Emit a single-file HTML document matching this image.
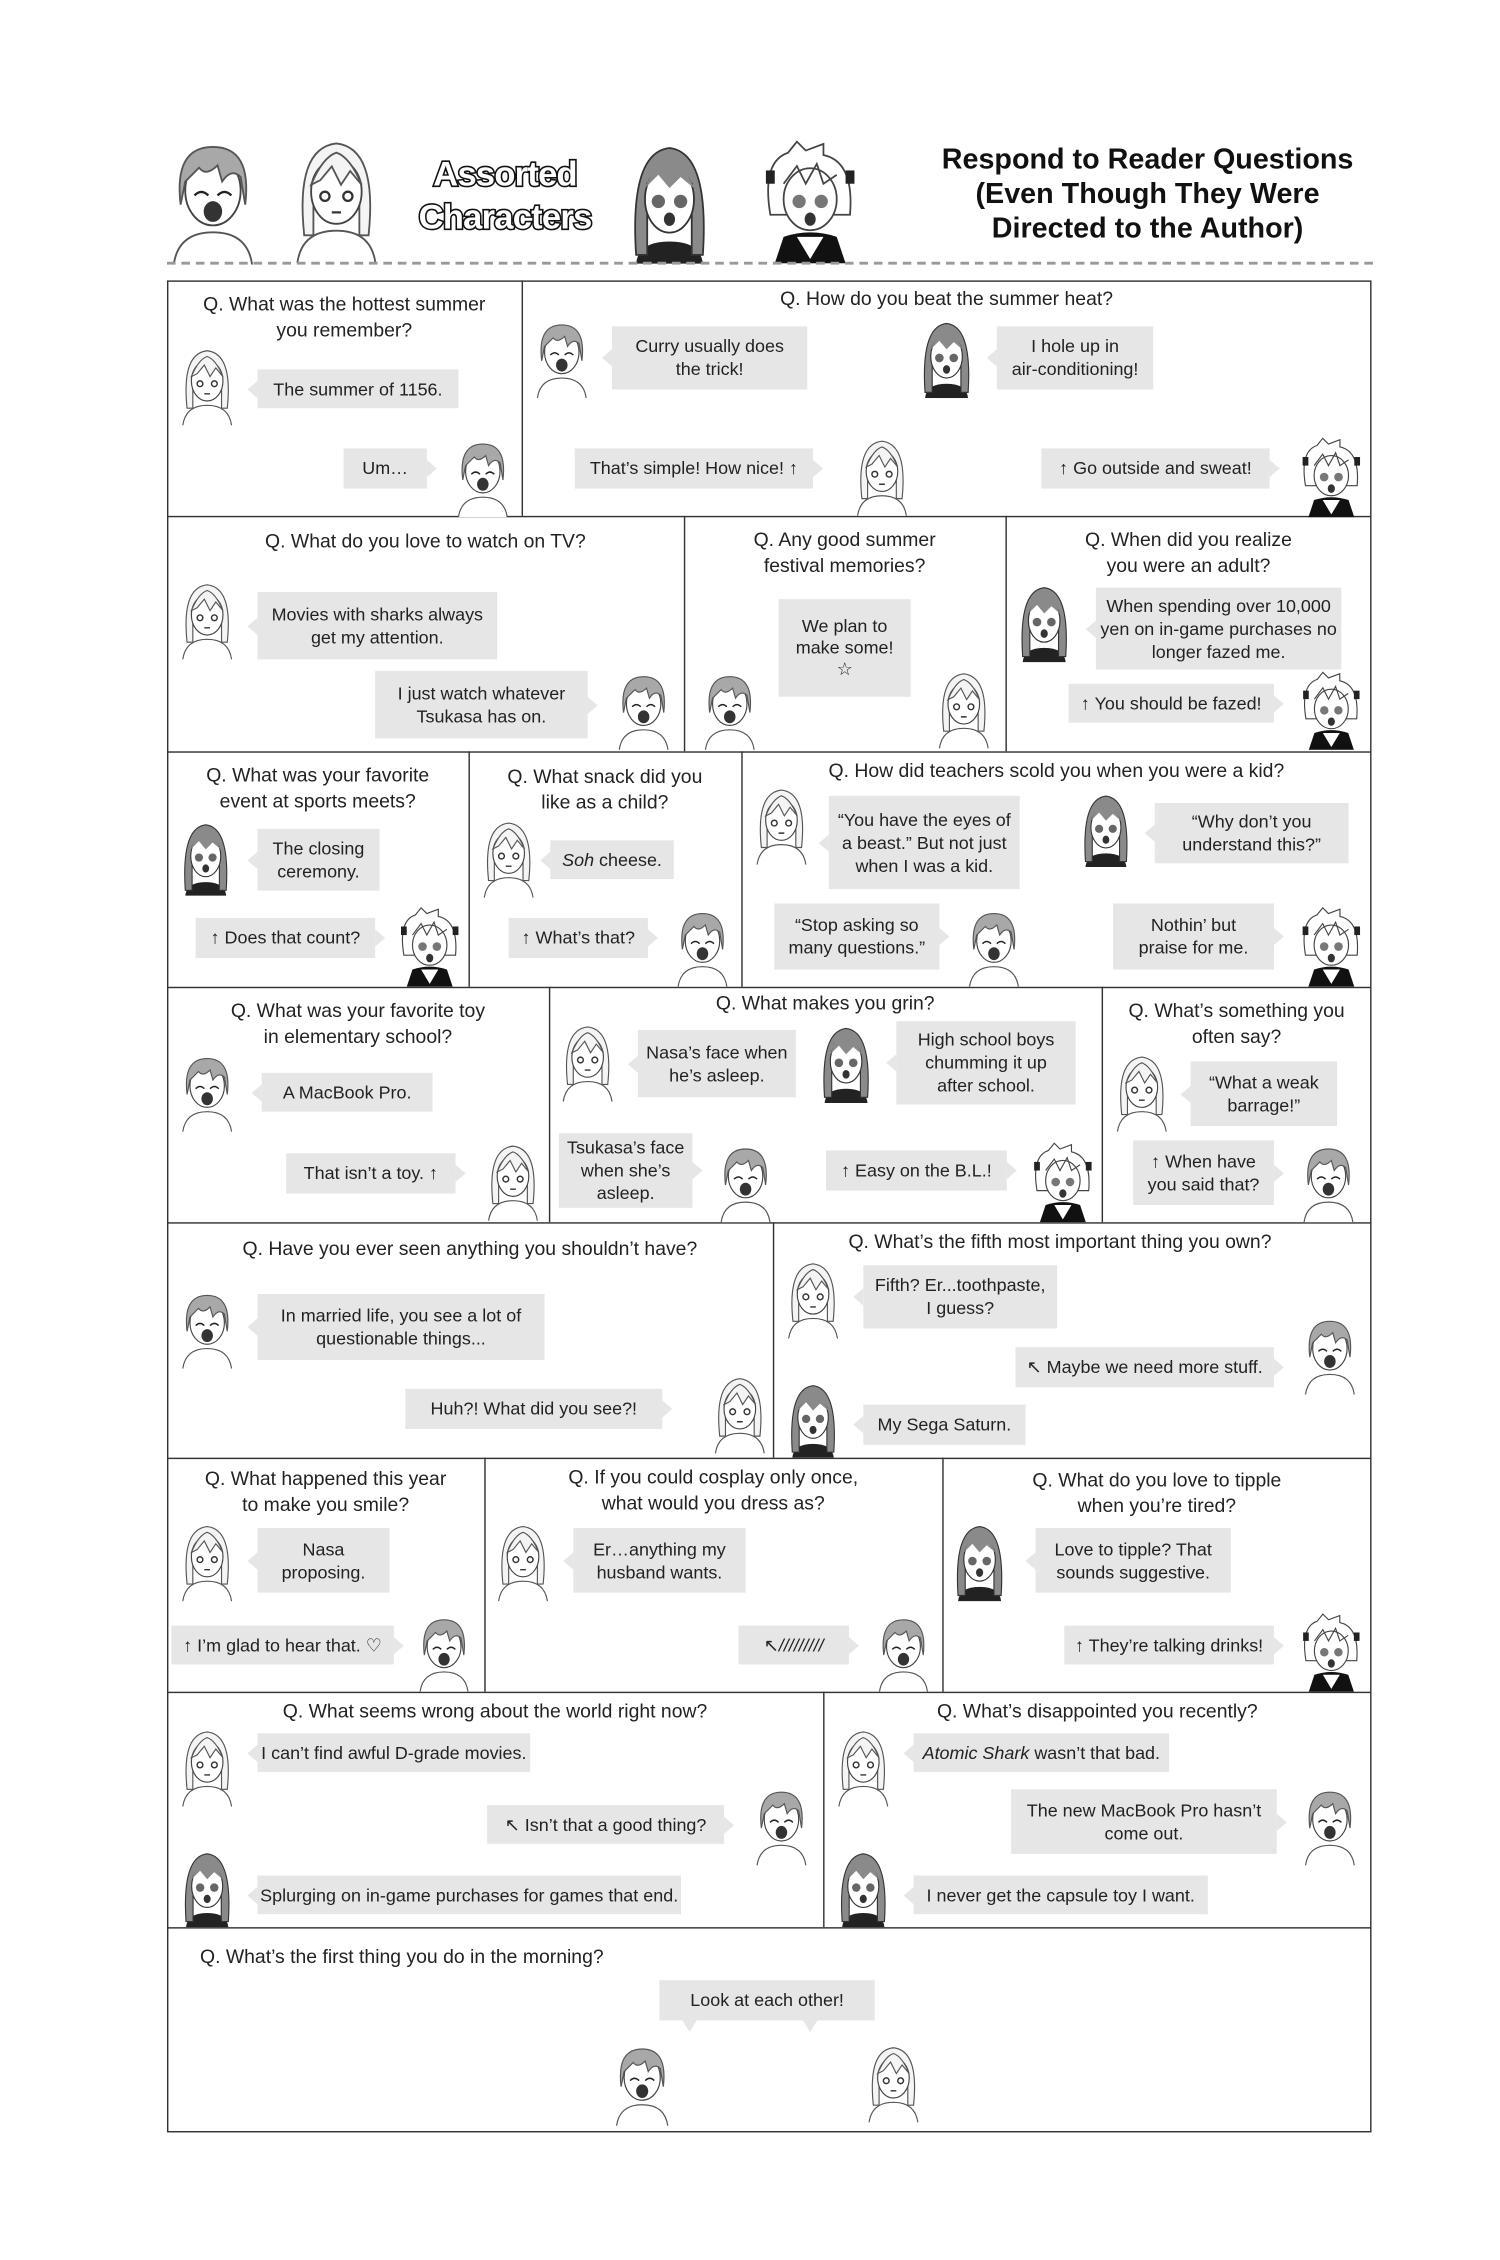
<!DOCTYPE html>
<html><head><meta charset="utf-8"><style>
html,body{margin:0;padding:0;background:#fff;width:1500px;height:2250px;overflow:hidden}
#s{position:absolute;left:-1px;top:-1px;width:1050px;height:1575px;transform:scale(1.4357);transform-origin:0 0;font-family:"Liberation Sans Narrow","Liberation Sans",sans-serif;color:#222}
.p{position:absolute;border:1.2px solid #333;box-sizing:border-box}
.q{position:absolute;text-align:center;font-size:13.5px;line-height:18px;white-space:nowrap}
.b{position:absolute;background:#e6e6e6;display:flex;align-items:center;justify-content:center;text-align:center;font-size:12.5px;line-height:16px;white-space:nowrap}
.b.l::before{content:"";position:absolute;left:-7px;top:50%;margin-top:-6px;border:6px solid transparent;border-right:7px solid #e6e6e6;border-left:0}
.b.r::after{content:"";position:absolute;right:-7px;top:50%;margin-top:-6px;border:6px solid transparent;border-left:7px solid #e6e6e6;border-right:0}
svg.c{position:absolute;overflow:visible}
.h{position:absolute}
</style></head><body><div id="s">
<svg width="0" height="0" style="position:absolute">
<defs>
<symbol id="A" viewBox="0 0 40 56"><path d="M3 56 Q5 42 20 42 Q35 42 37 56" fill="#fff" stroke="#555" stroke-width=".8"/><ellipse cx="20" cy="24" rx="12" ry="15" fill="#fff" stroke="#444" stroke-width=".8"/><path d="M6 30 Q3 5 20 5 Q37 5 34 30 L32 18 Q28 14 24 20 L22 13 Q17 18 14 14 Q10 18 8 20Z" fill="#a8a8a8" stroke="#555" stroke-width=".8"/><path d="M12 26 q3 -3 6 0 M22 26 q3 -3 6 0" stroke="#222" fill="none"/><ellipse cx="20" cy="33" rx="4" ry="4.5" fill="#333"/></symbol>
<symbol id="B" viewBox="0 0 40 56"><path d="M3 56 Q5 42 20 42 Q35 42 37 56" fill="#fff" stroke="#555" stroke-width=".8"/><path d="M6 44 Q2 6 20 4 Q38 6 34 44 L30 44 L30 20 L10 20 L10 44Z" fill="#f4f4f4" stroke="#555" stroke-width=".8"/><ellipse cx="20" cy="25" rx="11" ry="14" fill="#fff" stroke="#444" stroke-width=".8"/><path d="M9 22 Q14 10 20 8 Q26 10 31 22 L26 16 L22 22 L18 14 L13 20Z" fill="#f4f4f4" stroke="#555" stroke-width=".8"/><circle cx="15" cy="27" r="2" fill="none" stroke="#333"/><circle cx="25" cy="27" r="2" fill="none" stroke="#333"/><path d="M18 34 h4" stroke="#333"/></symbol>
<symbol id="C" viewBox="0 0 40 56"><path d="M5 56 Q6 46 20 46 Q34 46 35 56Z" fill="#222"/><path d="M5 52 Q2 6 20 4 Q38 6 35 52 L30 52 L30 20 L10 20 L10 52Z" fill="#8a8a8a" stroke="#333" stroke-width=".8"/><ellipse cx="20" cy="27" rx="11" ry="15" fill="#fff" stroke="#333" stroke-width=".8"/><path d="M9 22 Q14 10 20 8 Q26 10 31 22 L25 17 L20 22 L15 16Z" fill="#8a8a8a"/><circle cx="15" cy="28" r="3" fill="#666"/><circle cx="25" cy="28" r="3" fill="#666"/><ellipse cx="20" cy="36" rx="2.5" ry="3" fill="#333"/></symbol>
<symbol id="D" viewBox="0 0 48 56"><path d="M8 56 L12 44 Q24 40 36 44 L40 56Z" fill="#111"/><path d="M18 44 L24 54 L30 44Z" fill="#fff"/><path d="M6 34 Q2 10 14 6 L18 1 L22 5 L30 2 L30 7 Q44 10 42 34 Z" fill="#fff" stroke="#444" stroke-width=".8"/><rect x="4" y="14" width="4" height="6" fill="#222"/><rect x="40" y="14" width="4" height="6" fill="#222"/><ellipse cx="24" cy="27" rx="12" ry="14" fill="#fff" stroke="#444" stroke-width=".8"/><path d="M12 20 L18 12 L22 20 L27 11 L30 20 L36 16" fill="none" stroke="#444" stroke-width=".8"/><circle cx="19" cy="28" r="3" fill="#777"/><circle cx="29" cy="28" r="3" fill="#777"/><ellipse cx="24" cy="36" rx="2.5" ry="3" fill="#333"/></symbol>
</defs></svg>

<!-- header -->
<svg class="c" style="left:116px;top:95px;width:66px;height:90px" viewBox="0 0 40 56"><use href="#A"/></svg>
<svg class="c" style="left:203px;top:93px;width:64px;height:92px" viewBox="0 0 40 56"><use href="#B"/></svg>
<svg class="c" style="left:436px;top:97px;width:62px;height:88px" viewBox="0 0 40 56"><use href="#C"/></svg>
<svg class="c" style="left:528px;top:97px;width:74px;height:88px" viewBox="0 0 48 56"><use href="#D"/></svg>
<div class="h" style="left:280px;top:108px;width:145px;text-align:center;font:bold 24px/30px 'Liberation Sans',sans-serif;color:#fff;-webkit-text-stroke:2.2px #111;paint-order:stroke fill;letter-spacing:-0.5px">Assorted<br>Characters</div>
<div class="h" style="left:630px;top:100px;width:340px;text-align:center;font:bold 20px/24px 'Liberation Sans',sans-serif;color:#111">Respond to Reader Questions<br>(Even Though They Were<br>Directed to the Author)</div>
<div class="h" style="left:117px;top:183px;width:840px;border-top:2.5px dashed #999"></div>

<!-- grid -->
<div class="p" style="left:117px;top:196px;width:839px;height:1290px"></div>
<div class="h" style="left:117px;width:839px;top:360px;border-top:1.2px solid #333"></div>
<div class="h" style="left:117px;width:839px;top:524px;border-top:1.2px solid #333"></div>
<div class="h" style="left:117px;width:839px;top:688px;border-top:1.2px solid #333"></div>
<div class="h" style="left:117px;width:839px;top:852px;border-top:1.2px solid #333"></div>
<div class="h" style="left:117px;width:839px;top:1016px;border-top:1.2px solid #333"></div>
<div class="h" style="left:117px;width:839px;top:1179px;border-top:1.2px solid #333"></div>
<div class="h" style="left:117px;width:839px;top:1343px;border-top:1.2px solid #333"></div>
<div class="h" style="left:364px;top:196px;height:164px;border-left:1.2px solid #333"></div>
<div class="h" style="left:477px;top:360px;height:164px;border-left:1.2px solid #333"></div>
<div class="h" style="left:701px;top:360px;height:164px;border-left:1.2px solid #333"></div>
<div class="h" style="left:327px;top:524px;height:164px;border-left:1.2px solid #333"></div>
<div class="h" style="left:517px;top:524px;height:164px;border-left:1.2px solid #333"></div>
<div class="h" style="left:383px;top:688px;height:164px;border-left:1.2px solid #333"></div>
<div class="h" style="left:768px;top:688px;height:164px;border-left:1.2px solid #333"></div>
<div class="h" style="left:539px;top:852px;height:164px;border-left:1.2px solid #333"></div>
<div class="h" style="left:338px;top:1016px;height:163px;border-left:1.2px solid #333"></div>
<div class="h" style="left:657px;top:1016px;height:163px;border-left:1.2px solid #333"></div>
<div class="h" style="left:574px;top:1179px;height:164px;border-left:1.2px solid #333"></div>

<!-- row1 -->
<div class="q" style="left:117px;width:247px;top:204px">Q. What was the hottest summer<br>you remember?</div>
<svg class="c" style="left:125px;top:240px;width:40px;height:58px" viewBox="0 0 40 56"><use href="#B"/></svg>
<div class="b l" style="left:180px;top:258px;width:140px;height:27px">The summer of 1156.</div>
<div class="b r" style="left:240px;top:313px;width:58px;height:28px">Um…</div>
<svg class="c" style="left:316px;top:305px;width:42px;height:56px" viewBox="0 0 40 56"><use href="#A"/></svg>

<div class="q" style="left:364px;width:592px;top:200px">Q. How do you beat the summer heat?</div>
<svg class="c" style="left:372px;top:222px;width:40px;height:56px" viewBox="0 0 40 56"><use href="#A"/></svg>
<div class="b l" style="left:427px;top:228px;width:136px;height:44px">Curry usually does<br>the trick!</div>
<svg class="c" style="left:640px;top:222px;width:40px;height:56px" viewBox="0 0 40 56"><use href="#C"/></svg>
<div class="b l" style="left:695px;top:228px;width:109px;height:44px">I hole up in<br>air-conditioning!</div>
<div class="b r" style="left:401px;top:313px;width:166px;height:28px">That’s simple! How nice! ↑</div>
<svg class="c" style="left:595px;top:303px;width:40px;height:58px" viewBox="0 0 40 56"><use href="#B"/></svg>
<div class="b r" style="left:726px;top:313px;width:159px;height:28px">↑ Go outside and sweat!</div>
<svg class="c" style="left:903px;top:305px;width:50px;height:56px" viewBox="0 0 48 56"><use href="#D"/></svg>

<!-- row2 -->
<div class="q" style="left:117px;width:360px;top:369px">Q. What do you love to watch on TV?</div>
<svg class="c" style="left:125px;top:403px;width:40px;height:58px" viewBox="0 0 40 56"><use href="#B"/></svg>
<div class="b l" style="left:180px;top:413px;width:167px;height:47px">Movies with sharks always<br>get my attention.</div>
<div class="b r" style="left:262px;top:468px;width:148px;height:47px">I just watch whatever<br>Tsukasa has on.</div>
<svg class="c" style="left:428px;top:467px;width:42px;height:56px" viewBox="0 0 40 56"><use href="#A"/></svg>

<div class="q" style="left:477px;width:224px;top:368px">Q. Any good summer<br>festival memories?</div>
<div class="b" style="left:543px;top:418px;width:92px;height:68px;line-height:15px">We plan to<br>make some!<br>☆</div>
<svg class="c" style="left:488px;top:467px;width:42px;height:56px" viewBox="0 0 40 56"><use href="#A"/></svg>
<svg class="c" style="left:652px;top:465px;width:40px;height:58px" viewBox="0 0 40 56"><use href="#B"/></svg>

<div class="q" style="left:701px;width:255px;top:368px">Q. When did you realize<br>you were an adult?</div>
<svg class="c" style="left:708px;top:406px;width:40px;height:56px" viewBox="0 0 40 56"><use href="#C"/></svg>
<div class="b l" style="left:764px;top:410px;width:171px;height:57px">When spending over 10,000<br>yen on in-game purchases no<br>longer fazed me.</div>
<div class="b r" style="left:745px;top:477px;width:143px;height:27px">↑ You should be fazed!</div>
<svg class="c" style="left:903px;top:468px;width:50px;height:55px" viewBox="0 0 48 56"><use href="#D"/></svg>

<!-- row3 -->
<div class="q" style="left:117px;width:210px;top:532px">Q. What was your favorite<br>event at sports meets?</div>
<svg class="c" style="left:125px;top:570px;width:38px;height:56px" viewBox="0 0 40 56"><use href="#C"/></svg>
<div class="b l" style="left:180px;top:578px;width:85px;height:43px">The closing<br>ceremony.</div>
<div class="b r" style="left:137px;top:640px;width:125px;height:28px">↑ Does that count?</div>
<svg class="c" style="left:276px;top:632px;width:48px;height:56px" viewBox="0 0 48 56"><use href="#D"/></svg>

<div class="q" style="left:327px;width:190px;top:533px">Q. What snack did you<br>like as a child?</div>
<svg class="c" style="left:335px;top:568px;width:40px;height:60px" viewBox="0 0 40 56"><use href="#B"/></svg>
<div class="b l" style="left:384px;top:586px;width:86px;height:27px"><i>Soh</i>&nbsp;cheese.</div>
<div class="b r" style="left:355px;top:640px;width:97px;height:28px">↑ What’s that?</div>
<svg class="c" style="left:470px;top:632px;width:40px;height:56px" viewBox="0 0 40 56"><use href="#A"/></svg>

<div class="q" style="left:517px;width:439px;top:529px">Q. How did teachers scold you when you were a kid?</div>
<svg class="c" style="left:525px;top:545px;width:40px;height:60px" viewBox="0 0 40 56"><use href="#B"/></svg>
<div class="b l" style="left:578px;top:555px;width:133px;height:65px">“You have the eyes of<br>a beast.” But not just<br>when I was a kid.</div>
<svg class="c" style="left:752px;top:550px;width:38px;height:56px" viewBox="0 0 40 56"><use href="#C"/></svg>
<div class="b l" style="left:805px;top:560px;width:135px;height:42px">“Why don’t you<br>understand this?”</div>
<div class="b r" style="left:540px;top:630px;width:115px;height:46px">“Stop asking so<br>many questions.”</div>
<svg class="c" style="left:673px;top:632px;width:40px;height:56px" viewBox="0 0 40 56"><use href="#A"/></svg>
<div class="b r" style="left:776px;top:630px;width:112px;height:46px">Nothin’ but<br>praise for me.</div>
<svg class="c" style="left:903px;top:632px;width:50px;height:56px" viewBox="0 0 48 56"><use href="#D"/></svg>

<!-- row4 -->
<div class="q" style="left:117px;width:266px;top:696px">Q. What was your favorite toy<br>in elementary school?</div>
<svg class="c" style="left:125px;top:732px;width:40px;height:58px" viewBox="0 0 40 56"><use href="#A"/></svg>
<div class="b l" style="left:183px;top:748px;width:119px;height:27px">A MacBook Pro.</div>
<div class="b r" style="left:200px;top:804px;width:118px;height:28px">That isn’t a toy. ↑</div>
<svg class="c" style="left:338px;top:794px;width:40px;height:58px" viewBox="0 0 40 56"><use href="#B"/></svg>

<div class="q" style="left:383px;width:385px;top:691px">Q. What makes you grin?</div>
<svg class="c" style="left:390px;top:710px;width:40px;height:60px" viewBox="0 0 40 56"><use href="#B"/></svg>
<div class="b l" style="left:445px;top:718px;width:110px;height:47px">Nasa’s face when<br>he’s asleep.</div>
<svg class="c" style="left:570px;top:712px;width:40px;height:58px" viewBox="0 0 40 56"><use href="#C"/></svg>
<div class="b l" style="left:625px;top:712px;width:125px;height:58px">High school boys<br>chumming it up<br>after school.</div>
<div class="b r" style="left:390px;top:790px;width:93px;height:52px">Tsukasa’s face<br>when she’s<br>asleep.</div>
<svg class="c" style="left:500px;top:796px;width:40px;height:56px" viewBox="0 0 40 56"><use href="#A"/></svg>
<div class="b r" style="left:576px;top:802px;width:126px;height:28px">↑ Easy on the B.L.!</div>
<svg class="c" style="left:717px;top:796px;width:48px;height:56px" viewBox="0 0 48 56"><use href="#D"/></svg>

<div class="q" style="left:768px;width:188px;top:696px">Q. What’s something you<br>often say?</div>
<svg class="c" style="left:776px;top:732px;width:40px;height:58px" viewBox="0 0 40 56"><use href="#B"/></svg>
<div class="b l" style="left:830px;top:740px;width:102px;height:45px">“What a weak<br>barrage!”</div>
<div class="b r" style="left:790px;top:795px;width:98px;height:45px">↑ When have<br>you said that?</div>
<svg class="c" style="left:906px;top:796px;width:40px;height:56px" viewBox="0 0 40 56"><use href="#A"/></svg>

<!-- row5 -->
<div class="q" style="left:117px;width:422px;top:862px">Q. Have you ever seen anything you shouldn’t have?</div>
<svg class="c" style="left:125px;top:898px;width:40px;height:56px" viewBox="0 0 40 56"><use href="#A"/></svg>
<div class="b l" style="left:180px;top:902px;width:200px;height:46px">In married life, you see a lot of<br>questionable things...</div>
<div class="b r" style="left:283px;top:968px;width:179px;height:28px">Huh?! What did you see?!</div>
<svg class="c" style="left:496px;top:956px;width:40px;height:58px" viewBox="0 0 40 56"><use href="#B"/></svg>

<div class="q" style="left:539px;width:400px;top:857px">Q. What’s the fifth most important thing you own?</div>
<svg class="c" style="left:547px;top:875px;width:40px;height:60px" viewBox="0 0 40 56"><use href="#B"/></svg>
<div class="b l" style="left:602px;top:882px;width:135px;height:44px">Fifth? Er...toothpaste,<br>I guess?</div>
<div class="b r" style="left:708px;top:939px;width:180px;height:28px">↖ Maybe we need more stuff.</div>
<svg class="c" style="left:906px;top:916px;width:42px;height:56px" viewBox="0 0 40 56"><use href="#A"/></svg>
<svg class="c" style="left:547px;top:962px;width:40px;height:54px" viewBox="0 0 40 56"><use href="#C"/></svg>
<div class="b l" style="left:602px;top:979px;width:113px;height:28px">My Sega Saturn.</div>

<!-- row6 -->
<div class="q" style="left:117px;width:221px;top:1022px">Q. What happened this year<br>to make you smile?</div>
<svg class="c" style="left:125px;top:1058px;width:40px;height:60px" viewBox="0 0 40 56"><use href="#B"/></svg>
<div class="b l" style="left:180px;top:1065px;width:92px;height:45px">Nasa<br>proposing.</div>
<div class="b r" style="left:120px;top:1133px;width:155px;height:27px">↑ I’m glad to hear that. ♡</div>
<svg class="c" style="left:290px;top:1124px;width:40px;height:55px" viewBox="0 0 40 56"><use href="#A"/></svg>

<div class="q" style="left:338px;width:319px;top:1021px">Q. If you could cosplay only once,<br>what would you dress as?</div>
<svg class="c" style="left:345px;top:1058px;width:40px;height:60px" viewBox="0 0 40 56"><use href="#B"/></svg>
<div class="b l" style="left:400px;top:1065px;width:120px;height:45px">Er…anything my<br>husband wants.</div>
<div class="b r" style="left:515px;top:1133px;width:77px;height:27px">↖ <i>/////////</i></div>
<svg class="c" style="left:610px;top:1124px;width:40px;height:55px" viewBox="0 0 40 56"><use href="#A"/></svg>

<div class="q" style="left:657px;width:299px;top:1023px">Q. What do you love to tipple<br>when you’re tired?</div>
<svg class="c" style="left:663px;top:1060px;width:40px;height:56px" viewBox="0 0 40 56"><use href="#C"/></svg>
<div class="b l" style="left:722px;top:1065px;width:136px;height:45px">Love to tipple? That<br>sounds suggestive.</div>
<div class="b r" style="left:742px;top:1133px;width:146px;height:27px">↑ They’re talking drinks!</div>
<svg class="c" style="left:903px;top:1124px;width:50px;height:55px" viewBox="0 0 48 56"><use href="#D"/></svg>

<!-- row7 -->
<div class="q" style="left:117px;width:457px;top:1184px">Q. What seems wrong about the world right now?</div>
<svg class="c" style="left:125px;top:1202px;width:40px;height:58px" viewBox="0 0 40 56"><use href="#B"/></svg>
<div class="b l" style="left:180px;top:1208px;width:190px;height:27px">I can’t find awful D-grade movies.</div>
<div class="b r" style="left:340px;top:1258px;width:165px;height:27px">↖ Isn’t that a good thing?</div>
<svg class="c" style="left:525px;top:1244px;width:40px;height:56px" viewBox="0 0 40 56"><use href="#A"/></svg>
<svg class="c" style="left:125px;top:1288px;width:40px;height:55px" viewBox="0 0 40 56"><use href="#C"/></svg>
<div class="b l" style="left:180px;top:1307px;width:295px;height:27px">Splurging on in-game purchases for games that end.</div>

<div class="q" style="left:574px;width:382px;top:1184px">Q. What’s disappointed you recently?</div>
<svg class="c" style="left:582px;top:1202px;width:40px;height:58px" viewBox="0 0 40 56"><use href="#B"/></svg>
<div class="b l" style="left:637px;top:1208px;width:178px;height:27px"><i>Atomic Shark</i>&nbsp;wasn’t that bad.</div>
<div class="b r" style="left:705px;top:1247px;width:185px;height:45px">The new MacBook Pro hasn’t<br>come out.</div>
<svg class="c" style="left:906px;top:1244px;width:42px;height:56px" viewBox="0 0 40 56"><use href="#A"/></svg>
<svg class="c" style="left:582px;top:1288px;width:40px;height:55px" viewBox="0 0 40 56"><use href="#C"/></svg>
<div class="b l" style="left:637px;top:1307px;width:205px;height:27px">I never get the capsule toy I want.</div>

<!-- row8 -->
<div class="q" style="left:140px;top:1355px;text-align:left">Q. What’s the first thing you do in the morning?</div>
<div class="b" style="left:460px;top:1380px;width:150px;height:28px">Look at each other!</div>
<div class="h" style="left:476px;top:1408px;border:5px solid transparent;border-top:8px solid #e6e6e6"></div>
<div class="h" style="left:560px;top:1408px;border:5px solid transparent;border-top:8px solid #e6e6e6"></div>
<svg class="c" style="left:427px;top:1420px;width:42px;height:64px" viewBox="0 0 40 56"><use href="#A"/></svg>
<svg class="c" style="left:603px;top:1418px;width:40px;height:66px" viewBox="0 0 40 56"><use href="#B"/></svg>
</div></body></html>
